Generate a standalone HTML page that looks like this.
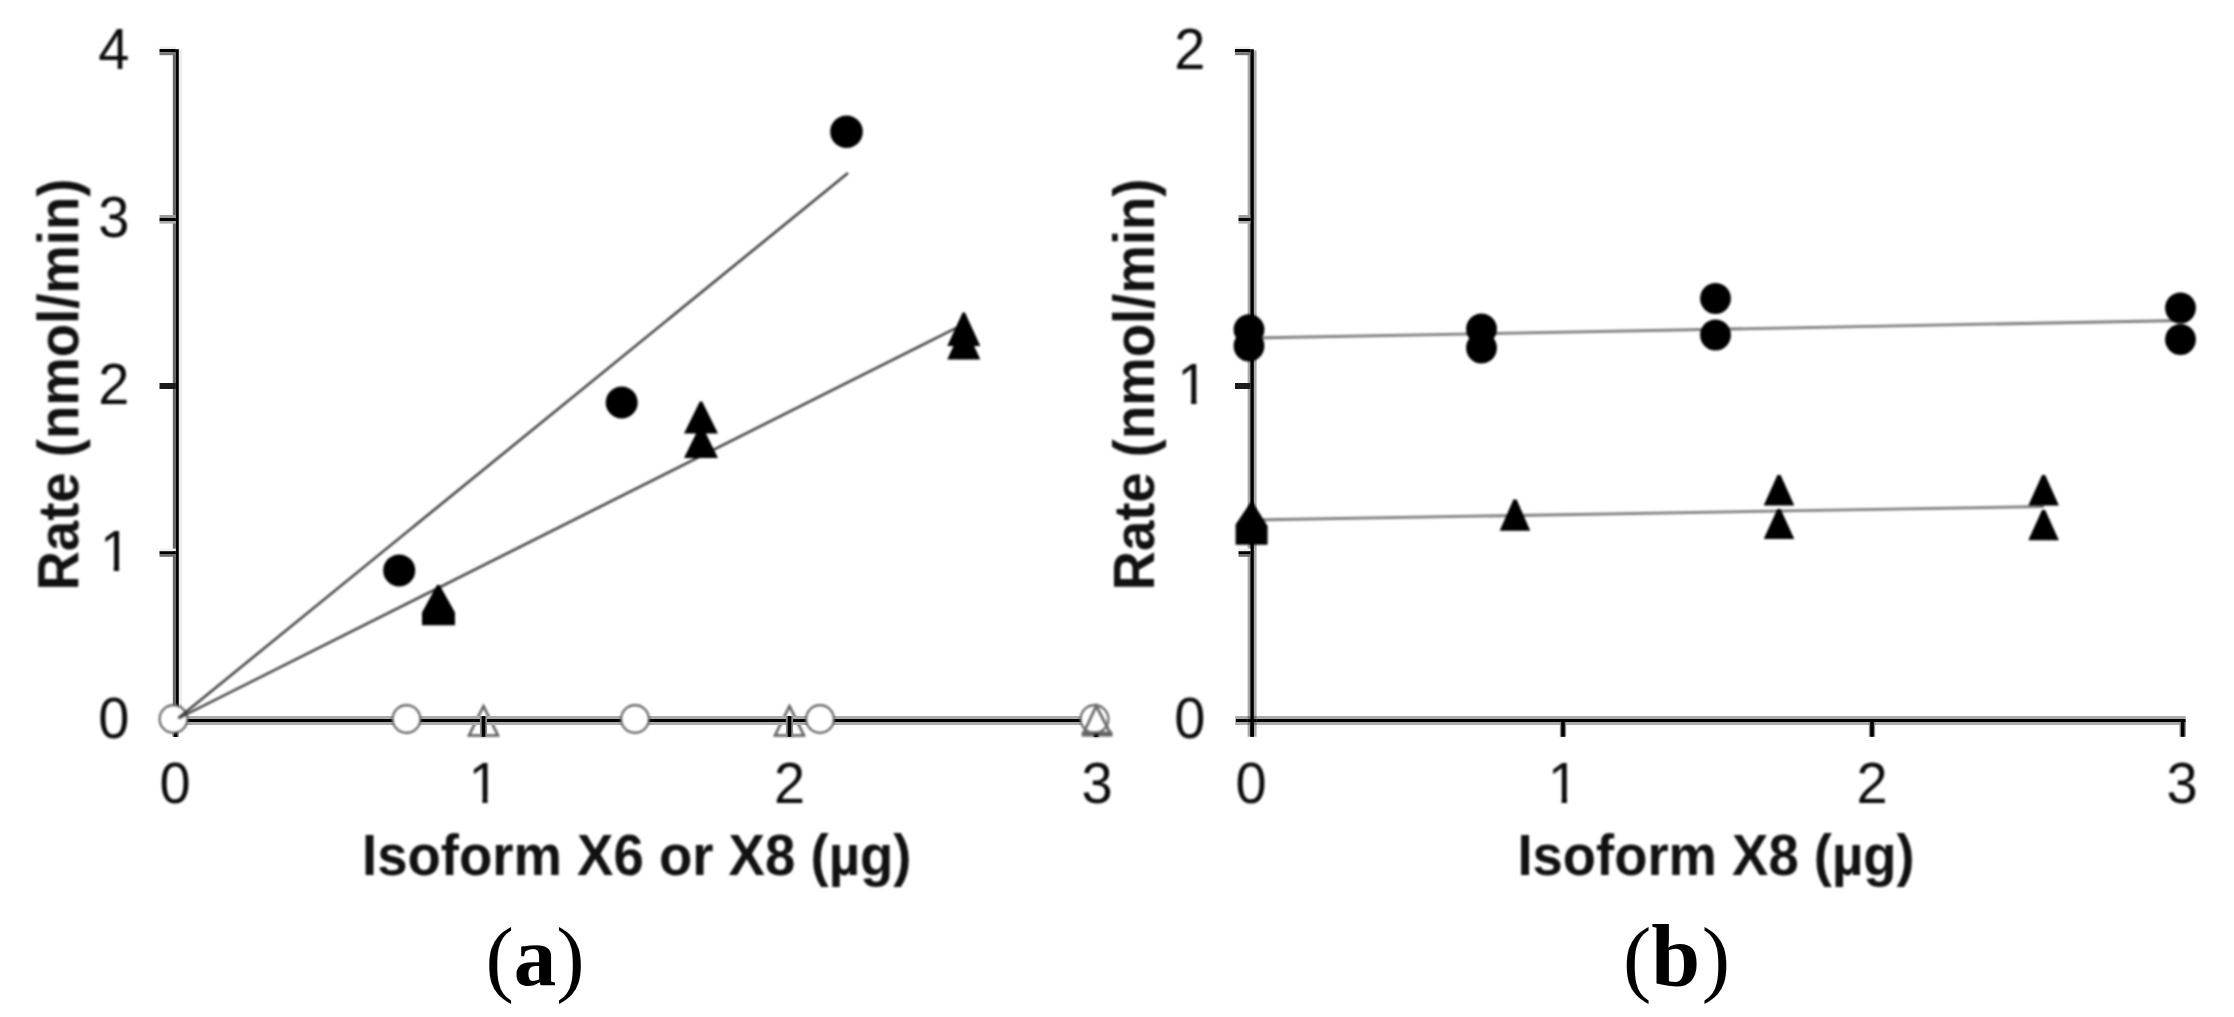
<!DOCTYPE html>
<html lang="en">
<head>
<meta charset="utf-8">
<title>Rate vs isoform amount</title>
<style>
  html, body { margin: 0; padding: 0; background: #ffffff; }
  body { width: 2234px; height: 1017px; overflow: hidden; }
  svg { display: block; }
  .num { font-family: "Liberation Sans", sans-serif; font-size: 56px; fill: #0c0c0c; }
  .ttl { font-family: "Liberation Sans", sans-serif; font-size: 56px; font-weight: bold; fill: #111; }
  .cap { font-family: "Liberation Serif", serif; font-size: 85px; fill: #000; }
  .cap .b { font-weight: bold; }
  .fit { stroke: #3c3c3c; stroke-width: 2.4; fill: none; }
  .fit2 { stroke: #808080; stroke-width: 2.8; fill: none; }
  .oc { fill: #fff; stroke: #606060; stroke-width: 2.1; }
  .ot { fill: none; stroke: #5c5c5c; stroke-width: 2.5; stroke-linejoin: miter; }
  .fm { fill: #000; stroke: none; }
</style>
</head>
<body>
<svg width="2234" height="1017" viewBox="0 0 2234 1017">
  <defs>
    <filter id="soft" x="0" y="0" width="2234" height="1017" filterUnits="userSpaceOnUse" color-interpolation-filters="sRGB">
      <feGaussianBlur stdDeviation="0.8"/>
    </filter>
    <!-- trims the foot serif of the digit 1 so it reads like the Arial/Helvetica form -->
    <clipPath id="c1ay"><path d="M91.9 518.7 H132.9 V565.3 H119.1 V572.7 H113.8 V565.3 H91.9 Z"/></clipPath>
    <clipPath id="c1ax"><path d="M460.5 751.0 H501.5 V797 H487.6 V805.0 H482.4 V797 H460.5 Z"/></clipPath>
    <clipPath id="c1by"><path d="M1169.3 352.0 H1210.3 V398.6 H1196.5 V406.0 H1191.1 V398.6 H1169.3 Z"/></clipPath>
    <clipPath id="c1bx"><path d="M1539.8 751.0 H1580.8 V797 H1567.0 V805.0 H1561.6 V797 H1539.8 Z"/></clipPath>
  </defs>
  <rect x="0" y="0" width="2234" height="1017" fill="#ffffff"/>
  <!-- open triangle markers that sit underneath the x axis of panel A -->
  <g filter="url(#soft)">
    <path class="ot" d="M483.5 706 L498 735.5 H469 Z"/>
    <path class="ot" d="M789.5 706 L804 735.5 H775 Z"/>
  </g>

  <!-- axes of both panels: crisp (the source bitmap shows a dark core with a grey fringe) -->
  <g id="axes">
    <g id="axesA">
      <!-- y axis -->
      <rect x="172.8" y="50" width="3" height="672" fill="#666"/>
      <rect x="175.8" y="49.2" width="3.1" height="672.8" fill="#000"/>
      <rect x="178.9" y="50" width="3" height="666" fill="#ececec"/>
      <!-- y ticks -->
      <rect x="159.5" y="46.6" width="16.3" height="2.4" fill="#ececec"/>
      <rect x="159.5" y="49" width="16.3" height="3.3" fill="#000"/>
      <rect x="159.5" y="52.3" width="16.3" height="2.9" fill="#777"/>
      <rect x="159.5" y="215" width="16.3" height="3" fill="#9a9a9a"/>
      <rect x="159.5" y="218" width="16.3" height="3" fill="#000"/>
      <rect x="159.5" y="221" width="16.3" height="2.6" fill="#acacac"/>
      <rect x="159.5" y="383" width="16.3" height="6" fill="#1c1c1c"/>
      <rect x="159.5" y="548.6" width="16.3" height="2.6" fill="#efefef"/>
      <rect x="159.5" y="551.2" width="16.3" height="2.8" fill="#000"/>
      <rect x="159.5" y="554" width="16.3" height="2.8" fill="#707070"/>
      <!-- x axis -->
      <rect x="174" y="716" width="922" height="9" fill="#aaa"/>
      <rect x="174" y="719" width="922" height="3" fill="#000"/>
      <!-- x ticks -->
      <rect x="479.9" y="716" width="7.2" height="20.8" fill="#8e8e8e"/>
      <rect x="481.7" y="716" width="3.6" height="20.8" fill="#000"/>
      <rect x="785.9" y="716" width="7.2" height="20.8" fill="#8e8e8e"/>
      <rect x="787.7" y="716" width="3.6" height="20.8" fill="#000"/>
      <rect x="172.4" y="722" width="6.4" height="15" fill="#8e8e8e"/>
      <rect x="173.8" y="722" width="3.6" height="15" fill="#000"/>
      <rect x="1092.8" y="722" width="6.4" height="15" fill="#8e8e8e"/>
      <rect x="1094.2" y="722" width="3.6" height="15" fill="#000"/>
    </g>
    <g id="axesB">
      <!-- y axis -->
      <rect x="1247.6" y="50.5" width="9" height="686.2" fill="#aaa"/>
      <rect x="1250.4" y="49.2" width="3.4" height="687.5" fill="#000"/>
      <!-- y ticks -->
      <rect x="1235" y="46.6" width="15.4" height="2.4" fill="#ececec"/>
      <rect x="1235" y="49" width="15.4" height="3.3" fill="#000"/>
      <rect x="1235" y="52.3" width="15.4" height="2.9" fill="#777"/>
      <rect x="1238.5" y="215" width="11.9" height="3" fill="#9a9a9a"/>
      <rect x="1238.5" y="218" width="11.9" height="3" fill="#000"/>
      <rect x="1238.5" y="221" width="11.9" height="2.6" fill="#acacac"/>
      <rect x="1235" y="383" width="15.4" height="6" fill="#1c1c1c"/>
      <rect x="1238.5" y="548.6" width="11.9" height="2.6" fill="#efefef"/>
      <rect x="1238.5" y="551.2" width="11.9" height="2.8" fill="#000"/>
      <rect x="1238.5" y="554" width="11.9" height="2.8" fill="#707070"/>
      <!-- x axis -->
      <rect x="1235.2" y="716" width="950.4" height="9" fill="#aaa"/>
      <rect x="1236" y="719" width="949.6" height="3" fill="#000"/>
      <rect x="1247.6" y="716" width="9" height="9" fill="#787878"/>
      <rect x="1247.6" y="719" width="9" height="3" fill="#000"/>
      <rect x="1250.4" y="716" width="3.4" height="20.7" fill="#000"/>
      <!-- x ticks -->
      <rect x="1559.8" y="722" width="6.4" height="14.8" fill="#8e8e8e"/>
      <rect x="1561.2" y="720" width="3.6" height="16.8" fill="#000"/>
      <rect x="1868.8" y="722" width="6.4" height="14.8" fill="#8e8e8e"/>
      <rect x="1870.2" y="720" width="3.6" height="16.8" fill="#000"/>
      <rect x="2179.5" y="722" width="6.4" height="14.8" fill="#8e8e8e"/>
      <rect x="2180.9" y="720" width="3.6" height="16.8" fill="#000"/>
    </g>
  </g>

  <g filter="url(#soft)">

  <!-- ================= PANEL A ================= -->
  <g id="panelA">
    <!-- open circles -->
    <circle class="oc" cx="173.5" cy="719" r="13.9"/>
    <circle class="oc" cx="406.5" cy="719" r="13.9"/>
    <circle class="oc" cx="635" cy="719" r="13.9"/>
    <circle class="oc" cx="820" cy="719" r="13.9"/>
    <circle class="oc" cx="1094.5" cy="719" r="13.9"/>
    <path class="ot" style="stroke-width:2.8;stroke:#6a6a6a" d="M1096.3 706 L1110.8 734 H1083.2 Z"/>
    <path d="M1082 734 H1112.3" style="stroke:#666;stroke-width:5.2;fill:none"/>
    <path d="M1094 735.3 H1098.5" style="stroke:#111;stroke-width:3;fill:none"/>

    <!-- fit lines -->
    <line class="fit" x1="178.5" y1="718" x2="848" y2="173"/>
    <line class="fit" x1="178.5" y1="718.3" x2="964" y2="324"/>

    <!-- filled circles -->
    <circle class="fm" cx="399.2" cy="570.4" r="16"/>
    <circle class="fm" cx="621.7" cy="402.5" r="16"/>
    <circle class="fm" cx="846.5" cy="131.7" r="16.3"/>
    <!-- filled triangles -->
    <path class="fm" d="M437 585 H439.6 L455 612.5 V625.3 H422 V612.5 Z"/>
    <path class="fm" d="M699.8 401.5 H702.2 L718 433.5 H684 Z M699.8 426 H702.2 L718 458 H684 Z"/>
    <path class="fm" d="M962.6 312.5 H965 L980.3 346 H947.3 Z M962.6 326 H965 L980.3 359.5 H947.3 Z"/>

    <!-- y tick labels -->
    <text class="num" transform="translate(129.5 68.9) scale(1 1.04)" text-anchor="end">4</text>
    <text class="num" transform="translate(129.5 236.7) scale(1 1.04)" text-anchor="end">3</text>
    <text class="num" transform="translate(129.5 403.7) scale(1 1.04)" text-anchor="end">2</text>
    <g clip-path="url(#c1ay)"><text class="num" transform="translate(131.1 570.7) scale(1 1.04)" text-anchor="end">1</text></g>
    <text class="num" transform="translate(129.5 737.7) scale(1 1.04)" text-anchor="end">0</text>
    <!-- x tick labels -->
    <text class="num" transform="translate(175 802.7) scale(1 1.04)" text-anchor="middle">0</text>
    <g clip-path="url(#c1ax)"><text class="num" transform="translate(484 802.7) scale(1 1.04)" text-anchor="middle">1</text></g>
    <text class="num" transform="translate(789.5 802.7) scale(1 1.04)" text-anchor="middle">2</text>
    <text class="num" transform="translate(1097 802.7) scale(1 1.04)" text-anchor="middle">3</text>
    <!-- titles -->
    <text class="ttl" transform="translate(636.75 875) scale(0.974 1.04)" text-anchor="middle">Isoform X6 or X8 (µg)</text>
    <text class="ttl" transform="translate(78.3 384.5) rotate(-90) scale(0.974 1.04)" text-anchor="middle">Rate (nmol/min)</text>
  </g>

  <!-- ================= PANEL B ================= -->
  <g id="panelB">
    <!-- fit lines -->
    <line class="fit2" x1="1252" y1="338" x2="2181" y2="320.5"/>
    <line class="fit2" x1="1252" y1="520" x2="2044" y2="506.5"/>

    <!-- filled circles -->
    <circle class="fm" cx="1249" cy="329.6" r="15.4"/>
    <circle class="fm" cx="1249" cy="346" r="15.4"/>
    <circle class="fm" cx="1481.5" cy="329" r="15.4"/>
    <circle class="fm" cx="1481.5" cy="348" r="15.4"/>
    <circle class="fm" cx="1715.5" cy="298.5" r="15.4"/>
    <circle class="fm" cx="1715.5" cy="335" r="15.4"/>
    <circle class="fm" cx="2180.5" cy="308" r="15.4"/>
    <circle class="fm" cx="2180.5" cy="339.5" r="15.4"/>
    <!-- filled triangles -->
    <path class="fm" d="M1250.4 502.5 H1252.8 L1267.6 526 V544.7 H1235.6 V524.5 Z"/>
    <path class="fm" d="M1513.4 499.5 H1516.6 L1530.3 530.8 H1499.7 Z"/>
    <path class="fm" d="M1777.4 475 H1780.6 L1794.3 505.5 H1763.7 Z M1777.4 509 H1780.6 L1794.3 539 H1763.7 Z"/>
    <path class="fm" d="M2042 475 H2045.2 L2058.9 505.5 H2028.3 Z M2042 510 H2045.2 L2058.9 540.3 H2028.3 Z"/>

    <!-- y tick labels -->
    <text class="num" transform="translate(1205.5 69.2) scale(1 1.04)" text-anchor="end">2</text>
    <g clip-path="url(#c1by)"><text class="num" transform="translate(1208.5 404) scale(1 1.04)" text-anchor="end">1</text></g>
    <text class="num" transform="translate(1205.5 737.7) scale(1 1.04)" text-anchor="end">0</text>
    <!-- x tick labels -->
    <text class="num" transform="translate(1251 802.7) scale(1 1.04)" text-anchor="middle">0</text>
    <g clip-path="url(#c1bx)"><text class="num" transform="translate(1563.3 802.7) scale(1 1.04)" text-anchor="middle">1</text></g>
    <text class="num" transform="translate(1872 802.7) scale(1 1.04)" text-anchor="middle">2</text>
    <text class="num" transform="translate(2182 802.7) scale(1 1.04)" text-anchor="middle">3</text>
    <!-- titles -->
    <text class="ttl" transform="translate(1716 875) scale(0.972 1.04)" text-anchor="middle">Isoform X8 (µg)</text>
    <text class="ttl" transform="translate(1154.3 384.5) rotate(-90) scale(0.974 1.04)" text-anchor="middle">Rate (nmol/min)</text>
  </g>
  </g>

  <!-- panel captions (sharp, not softened) -->
  <g id="captions">
    <text class="cap" x="535" y="985.6" text-anchor="middle">(<tspan class="b" dy="-0.8">a</tspan><tspan dy="0.8">)</tspan></text>
    <text class="cap" x="1676.5" y="985.6" text-anchor="middle">(<tspan class="b" style="font-size:88px">b</tspan><tspan dx="1.5">)</tspan></text>
  </g>
</svg>
</body>
</html>
